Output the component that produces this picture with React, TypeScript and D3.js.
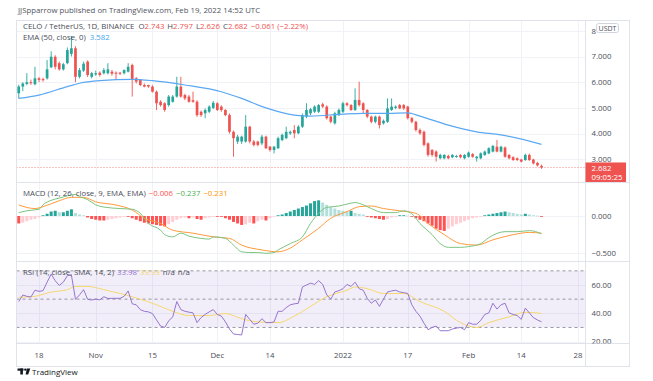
import React from "react";
import * as d3 from "d3";

// ---------- DATA ----------
const START_DAY = "2021-10-13";
// [open, high, low, close] per daily candle from START_DAY
const OHLC: [number, number, number, number][] = [
  [5.57, 5.9, 5.37, 5.83], [5.83, 6.0, 5.65, 5.95], [5.93, 6.35, 5.88, 6.0], [6.0, 6.1, 5.9, 5.96],
  [5.92, 6.6, 5.88, 6.15], [6.15, 6.2, 6.0, 6.09], [6.12, 6.18, 6.02, 6.08], [6.15, 6.86, 6.1, 6.5],
  [6.58, 7.2, 6.55, 6.99], [6.99, 7.05, 6.5, 6.6], [6.74, 6.8, 6.45, 6.5], [6.5, 6.75, 6.45, 6.7],
  [6.74, 7.35, 6.7, 7.25], [7.1, 7.8, 7.0, 7.32], [7.32, 7.4, 6.0, 6.21], [6.21, 6.55, 6.15, 6.47],
  [6.45, 6.8, 6.4, 6.72], [6.8, 6.85, 6.2, 6.28], [6.21, 6.4, 6.15, 6.35], [6.3, 6.45, 6.25, 6.35],
  [6.37, 6.42, 6.22, 6.28], [6.35, 6.55, 6.3, 6.47], [6.35, 6.74, 6.3, 6.5], [6.41, 6.48, 6.25, 6.33],
  [6.37, 6.42, 6.09, 6.33], [6.37, 6.4, 6.28, 6.33], [6.35, 6.5, 6.3, 6.47], [6.41, 6.74, 6.38, 6.6],
  [6.67, 6.72, 5.44, 6.09], [6.15, 6.2, 5.95, 6.02], [6.09, 6.12, 5.85, 5.89], [5.89, 5.95, 5.8, 5.83],
  [5.89, 5.9, 5.78, 5.83], [5.83, 5.88, 5.6, 5.63], [5.63, 5.68, 4.92, 5.18], [5.24, 5.3, 5.05, 5.11],
  [5.18, 5.22, 4.85, 4.92], [5.11, 5.5, 5.05, 5.44], [5.24, 5.5, 5.2, 5.44], [5.44, 6.21, 5.4, 5.83],
  [5.83, 6.21, 5.4, 5.44], [5.5, 5.55, 5.3, 5.37], [5.44, 5.5, 5.2, 5.24], [5.3, 5.63, 5.2, 5.24],
  [5.24, 5.3, 4.65, 4.72], [4.85, 4.9, 4.65, 4.72], [4.79, 4.98, 4.6, 4.92], [4.85, 5.1, 4.8, 5.05],
  [5.0, 5.27, 4.95, 5.2], [5.18, 5.22, 4.88, 4.92], [5.05, 5.1, 4.85, 4.92], [4.92, 4.95, 4.68, 4.72],
  [4.72, 4.78, 4.0, 4.07], [4.07, 4.12, 3.1, 3.82], [3.69, 3.95, 3.6, 3.88], [3.69, 3.92, 3.6, 3.88],
  [3.69, 4.72, 3.65, 4.27], [4.27, 4.3, 3.62, 3.69], [3.69, 3.75, 3.5, 3.56], [3.69, 3.72, 3.5, 3.56],
  [3.62, 3.95, 3.55, 3.88], [3.88, 3.92, 3.4, 3.43], [3.49, 3.52, 3.3, 3.36], [3.36, 3.52, 3.23, 3.49],
  [3.43, 3.88, 3.4, 3.82], [3.75, 4.0, 3.7, 3.95], [3.82, 4.27, 3.78, 4.07], [4.01, 4.12, 3.95, 4.07],
  [4.14, 4.33, 3.82, 4.01], [4.01, 4.33, 3.98, 4.27], [4.27, 4.78, 4.22, 4.72], [4.66, 5.18, 4.6, 4.92],
  [4.79, 5.0, 4.72, 4.95], [4.85, 5.1, 4.8, 5.05], [4.85, 5.15, 4.8, 5.11], [5.14, 5.2, 5.0, 5.05],
  [5.05, 5.1, 4.55, 4.6], [4.66, 4.7, 4.4, 4.46], [4.4, 4.85, 4.35, 4.79], [4.72, 4.98, 4.68, 4.92],
  [4.85, 5.24, 4.8, 5.18], [5.18, 5.22, 5.05, 5.11], [5.11, 5.15, 4.88, 4.92], [4.92, 5.76, 4.88, 5.31],
  [5.31, 6.02, 5.05, 5.11], [5.18, 5.22, 4.79, 4.92], [4.92, 4.95, 4.6, 4.66], [4.66, 4.7, 4.4, 4.46],
  [4.46, 4.7, 4.4, 4.66], [4.66, 4.7, 4.2, 4.33], [4.4, 4.55, 4.35, 4.5], [4.46, 5.37, 4.42, 4.98],
  [4.92, 5.37, 4.88, 5.05], [5.0, 5.1, 4.95, 5.05], [5.11, 5.15, 4.95, 4.98], [5.11, 5.15, 4.92, 4.98],
  [5.05, 5.08, 4.55, 4.6], [4.6, 4.65, 4.4, 4.46], [4.46, 4.5, 4.08, 4.14], [4.14, 4.2, 3.95, 4.01],
  [4.07, 4.12, 3.5, 3.56], [3.62, 3.66, 3.1, 3.17], [3.36, 3.4, 3.1, 3.17], [3.3, 3.35, 2.91, 3.1],
  [3.04, 3.22, 3.0, 3.17], [3.04, 3.2, 3.0, 3.17], [3.13, 3.18, 3.0, 3.04], [3.08, 3.2, 3.04, 3.17],
  [3.1, 3.17, 3.06, 3.13], [3.17, 3.2, 3.04, 3.08], [3.04, 3.2, 3.0, 3.17], [3.1, 3.3, 3.06, 3.26],
  [3.2, 3.24, 3.06, 3.1], [3.04, 3.13, 2.91, 3.1], [3.04, 3.27, 3.0, 3.23], [3.17, 3.34, 3.13, 3.3],
  [3.23, 3.47, 3.2, 3.43], [3.3, 3.56, 3.27, 3.52], [3.49, 3.75, 3.27, 3.3], [3.3, 3.53, 3.27, 3.49],
  [3.46, 3.5, 3.06, 3.1], [3.17, 3.2, 3.0, 3.04], [3.08, 3.12, 2.94, 2.97], [3.04, 3.07, 2.94, 2.97],
  [2.99, 3.02, 2.88, 2.91], [2.97, 3.22, 2.94, 3.17], [3.17, 3.22, 2.94, 2.97], [2.99, 3.02, 2.8, 2.84],
  [2.86, 2.9, 2.72, 2.76], [2.743, 2.797, 2.626, 2.682],
];

// [day index, value]
const EMA50: [number, number][] = [
  [0, 5.37], [5, 5.5], [12, 5.83], [15, 5.96], [20, 6.06], [28, 6.11], [33, 6.06], [41, 5.89],
  [50, 5.63], [55, 5.37], [61, 5.0], [68, 4.72], [72, 4.68], [80, 4.76], [85, 4.79], [91, 4.79],
  [96, 4.81], [99, 4.68], [106, 4.33], [113, 4.07], [119, 3.95], [129, 3.58],
];

const MACD_LINE: [number, number][] = [
  [0, 0.045], [2, 0.07], [5, 0.09], [6, 0.15], [8, 0.21], [10, 0.24], [12, 0.27], [14, 0.29],
  [15, 0.26], [17, 0.22], [19, 0.15], [21, 0.12], [25, 0.1], [28, 0.09], [30, 0.036], [32, -0.1],
  [35, -0.19], [36, -0.25], [38, -0.28], [40, -0.23], [42, -0.27], [45, -0.3], [47, -0.31], [48, -0.28],
  [51, -0.3], [53, -0.39], [55, -0.48], [57, -0.49], [59, -0.49], [61, -0.5], [63, -0.49], [64, -0.455],
  [67, -0.37], [70, -0.28], [72, -0.1], [74, 0.036], [76, 0.116], [79, 0.134], [81, 0.16], [83, 0.18],
  [85, 0.15], [87, 0.1], [90, 0.045], [93, 0.045], [95, 0.07], [97, 0.03], [99, -0.1], [102, -0.25],
  [104, -0.37], [106, -0.42], [109, -0.42], [111, -0.41], [114, -0.37], [116, -0.29], [120, -0.21],
  [123, -0.21], [126, -0.196], [129, -0.237],
];

const SIGNAL_LINE: [number, number][] = [
  [0, 0.147], [4, 0.1], [6, 0.125], [10, 0.205], [13, 0.25], [16, 0.25], [19, 0.19], [24, 0.147],
  [28, 0.08], [31, -0.03], [35, -0.1], [38, -0.19], [43, -0.23], [48, -0.28], [52, -0.3], [55, -0.39],
  [60, -0.455], [64, -0.48], [67, -0.43], [70, -0.32], [74, -0.165], [77, -0.03], [81, 0.058],
  [84, 0.125], [87, 0.134], [90, 0.1], [94, 0.07], [98, 0.036], [101, -0.1], [105, -0.25],
  [109, -0.37], [113, -0.39], [117, -0.32], [122, -0.25], [126, -0.22], [129, -0.231],
];

const MACD_HIST: number[] = [
  -0.1, -0.09, -0.07, -0.05, -0.04, -0.02,
  0.01, 0.03, 0.06, 0.07, 0.05, 0.05, 0.07, 0.09, 0.04, 0.02, 0.01,
  -0.02, -0.04, -0.05, -0.06, -0.06,
  -0.05, -0.04, -0.03, -0.02, -0.01, -0.01,
  -0.03, -0.05, -0.07, -0.09, -0.1, -0.11, -0.12, -0.13, -0.14,
  -0.11, -0.08, -0.05, -0.03, -0.02,
  -0.03, -0.02, -0.04, -0.05, -0.03, -0.02, -0.01, -0.01, -0.01,
  -0.03, -0.05, -0.08, -0.1, -0.12, -0.11,
  -0.09, -0.1, -0.07, -0.05, -0.06, -0.03, -0.01,
  0.01, 0.02, 0.04, 0.06, 0.08, 0.1, 0.12, 0.14, 0.17, 0.2, 0.21,
  0.18, 0.15, 0.12, 0.1, 0.08, 0.07, 0.06, 0.07, 0.04, 0.03, 0.02,
  -0.01, -0.02, -0.03, -0.04, -0.05, -0.04, -0.02, -0.01,
  0.01, 0.01, 0.005, -0.01,
  -0.03, -0.05, -0.07, -0.1, -0.13, -0.17, -0.19, -0.2,
  -0.17, -0.14, -0.11, -0.09, -0.07, -0.05, -0.03, -0.02, -0.01,
  0.01, 0.02, 0.03, 0.04, 0.05, 0.06, 0.05, 0.04, 0.03, 0.02, 0.03, 0.02, 0.01, 0.005, -0.006,
];

const RSI: number[] = [
  48.3, 52.9, 52, 51.5, 56.3, 55.5, 56, 62, 67.7, 63, 59.7, 62, 66.6, 67, 49.9, 53, 56.7, 49.9, 49.4, 50,
  49.5, 51.7, 50.5, 50.6, 50.6, 50.6, 52, 55.8, 46.7, 46, 42.6, 41.4, 41, 39.8, 35.3, 31, 30, 34.6, 37.5, 48.3,
  42.6, 41.4, 40.8, 40.3, 33.4, 37, 39.2, 41, 42.6, 39.2, 38, 34, 28.9, 25.4, 25, 24.7, 39.2, 35.7, 32.3, 33,
  36.2, 33.4, 33.4, 33.9, 41.4, 41.4, 44, 46, 46.7, 47.1, 58.6, 60, 61.3, 60.4, 63.1, 60.4, 53, 50, 55.1, 56,
  57.4, 60.4, 59, 62, 57.4, 56.3, 50.6, 47.1, 49.4, 44.9, 50, 55.1, 55.8, 56.3, 55.1, 54.6, 54, 46, 41.4, 38,
  33, 28.4, 30, 31, 27.7, 27.7, 27.7, 28.9, 29.5, 30, 28.4, 33.4, 32.3, 32.3, 35, 39.2, 40.3, 47.1, 43, 46,
  47.1, 40.3, 39.2, 38.4, 35.7, 43.7, 40.3, 36.9, 35.3, 33.98,
];

const RSI_SMA: [number, number][] = [
  [0, 51.3], [4, 52], [8, 55], [12, 56.7], [14, 59], [17, 59], [21, 56.7], [25, 54], [30, 50],
  [34, 46], [38, 41.4], [42, 38.4], [47, 38.4], [51, 39.8], [55, 36.2], [59, 33.9], [64, 33.4],
  [68, 38], [72, 44.9], [76, 51.7], [81, 56.3], [83, 58.6], [86, 57.4], [90, 54], [95, 54],
  [99, 48.3], [105, 41.4], [109, 33.4], [113, 30], [116, 33.4], [121, 37.5], [125, 40.7], [129, 39.93],
];

const PRICE_TICKS = [3, 4, 5, 6, 7, 8];
const MACD_TICKS = [0, -0.5];
const RSI_TICKS = [20, 40, 60];
const RSI_LEVELS = [70, 50, 30];
const TIME_TICKS: [string, string][] = [
  ["2021-10-18", "18"], ["2021-11-01", "Nov"], ["2021-11-15", "15"], ["2021-12-01", "Dec"],
  ["2021-12-14", "14"], ["2022-01-01", "2022"], ["2022-01-17", "17"], ["2022-02-01", "Feb"],
  ["2022-02-14", "14"], ["2022-02-28", "28"],
];
const LAST_PRICE = 2.682;
const COUNTDOWN = "09:05:25";

// ---------- LAYOUT ----------
const W = 653, H = 381;
const L = 16.5, AX = 585.5, R = 629.5;
const TOP = 20.5, P_BOT = 182.5, M_BOT = 261.5, R_BOT = 343.5, BOT = 366.5;
const FONT = "'Open Sans', 'Noto Sans', sans-serif";
const UP = "#26a69a", DOWN = "#ef5350";
const TXT = "#4a4d57";

const parse = d3.utcParse("%Y-%m-%d");
const start = parse(START_DAY) as Date;
const dayDate = (i: number) => d3.utcDay.offset(start, i);

export default function App() {
  const x = d3.scaleUtc()
    .domain([parse("2021-10-18") as Date, parse("2022-02-28") as Date])
    .range([39, 578]);
  const xi = (i: number) => x(dayDate(i));
  const yP = d3.scaleLinear().domain([3, 7]).range([159.3, 56.5]);
  const yM = d3.scaleLinear().domain([0, -0.5]).range([216, 253.3]);
  const yR = d3.scaleLinear().domain([70, 30]).range([270.85, 327.45]);

  const emaPath = d3.line<[number, number]>().x(d => xi(d[0])).y(d => yP(d[1])).curve(d3.curveMonotoneX)(EMA50) || "";
  const macdPath = d3.line<[number, number]>().x(d => xi(d[0])).y(d => yM(d[1])).curve(d3.curveMonotoneX)(MACD_LINE) || "";
  const sigPath = d3.line<[number, number]>().x(d => xi(d[0])).y(d => yM(d[1])).curve(d3.curveMonotoneX)(SIGNAL_LINE) || "";
  const rsiPath = d3.line<number>().x((_, i) => xi(i)).y(d => yR(d))(RSI) || "";
  const smaPath = d3.line<[number, number]>().x(d => xi(d[0])).y(d => yR(d[1])).curve(d3.curveMonotoneX)(RSI_SMA) || "";

  const histColor = (v: number, p: number) =>
    v >= 0 ? (v >= p ? "#26a69a" : "#b2dfdb") : (v <= p ? "#ff5252" : "#ffcdd2");

  const bodyW = 2.7;
  const grid = "#f0f2f6";
  const border = "#e0e3eb";
  const tagTop = yP(LAST_PRICE) - 5;

  return (
    <svg width={W} height={H} style={{ position: "absolute", left: 0, top: 0, background: "#fff" }}
      fontFamily={FONT}>
      <defs>
        <clipPath id="cp"><rect x={L} y={TOP} width={AX - L} height={P_BOT - TOP} /></clipPath>
        <clipPath id="cm"><rect x={L} y={P_BOT} width={AX - L} height={M_BOT - P_BOT} /></clipPath>
        <clipPath id="cr"><rect x={L} y={M_BOT} width={AX - L} height={R_BOT - M_BOT} /></clipPath>
        <clipPath id="cra"><rect x={AX} y={M_BOT} width={R - AX} height={R_BOT - M_BOT} /></clipPath>
        <clipPath id="cpa3"><rect x={AX} y={TOP + 30} width={R - AX} height={tagTop - TOP - 30} /></clipPath>
      </defs>
      <rect width={W} height={H} fill="#fff" />

      {/* header */}
      <text x={18} y={13} fontSize={7.8} fill="#50535e">
        JJSpparrow published on TradingView.com, Feb 19, 2022 14:52 UTC
      </text>

      {/* vertical grid */}
      {TIME_TICKS.map(([d]) => {
        const gx = Math.round(x(parse(d) as Date)) + 0.5;
        return <line key={d} x1={gx} x2={gx} y1={TOP} y2={R_BOT} stroke={grid} />;
      })}
      {/* horizontal grid */}
      {PRICE_TICKS.map(t => <line key={"p" + t} x1={L} x2={AX} y1={Math.round(yP(t)) + 0.5} y2={Math.round(yP(t)) + 0.5} stroke={grid} />)}
      {MACD_TICKS.map(t => <line key={"m" + t} x1={L} x2={AX} y1={Math.round(yM(t)) + 0.5} y2={Math.round(yM(t)) + 0.5} stroke={grid} />)}
      {RSI_TICKS.map(t => <line key={"r" + t} x1={L} x2={AX} y1={Math.round(yR(t)) + 0.5} y2={Math.round(yR(t)) + 0.5} stroke={grid} />)}

      {/* price pane */}
      <g clipPath="url(#cp)">
        <line x1={L} x2={AX} y1={yP(LAST_PRICE)} y2={yP(LAST_PRICE)} stroke={DOWN} strokeOpacity={0.7} strokeDasharray="1,2" />
        {OHLC.map(([o, h, l, c], i) => {
          const cx = xi(i);
          const col = c >= o ? UP : DOWN;
          const top = yP(Math.max(o, c));
          const bh = Math.max(1, yP(Math.min(o, c)) - top);
          return (
            <g key={i}>
              <line x1={cx} x2={cx} y1={yP(h)} y2={yP(l)} stroke={col} strokeWidth={0.9} />
              <rect x={cx - bodyW / 2} y={top} width={bodyW} height={bh} fill={col} />
            </g>
          );
        })}
        <path d={emaPath} fill="none" stroke="#5ba8f2" strokeWidth={1.2} />
      </g>

      {/* MACD pane */}
      <g clipPath="url(#cm)">
        {MACD_HIST.map((v, i) => {
          const p = i > 0 ? MACD_HIST[i - 1] : v;
          const y0 = yM(0), y1 = yM(v);
          return <rect key={i} x={xi(i) - 1.5} y={Math.min(y0, y1)} width={3} height={Math.max(0.8, Math.abs(y1 - y0))} fill={histColor(v, p)} />;
        })}
        <path d={sigPath} fill="none" stroke="#ff9a3c" strokeWidth={1} />
        <path d={macdPath} fill="none" stroke="#7cc47f" strokeWidth={1} />
      </g>

      {/* RSI pane */}
      <g clipPath="url(#cr)">
        <rect x={L} y={yR(70)} width={AX - L} height={yR(30) - yR(70)} fill="#7e57c2" fillOpacity={0.1} />
        {RSI_LEVELS.map(t => <line key={t} x1={L} x2={AX} y1={yR(t)} y2={yR(t)} stroke="#9598a1" strokeDasharray="3,3" />)}
        <path d={smaPath} fill="none" stroke="#f5d76e" strokeWidth={1} />
        <path d={rsiPath} fill="none" stroke="#9575cd" strokeWidth={1} />
      </g>

      {/* frame and separators */}
      <rect x={L} y={TOP} width={R - L} height={BOT - TOP} fill="none" stroke={border} />
      <line x1={L} x2={R} y1={P_BOT} y2={P_BOT} stroke={border} />
      <line x1={L} x2={R} y1={M_BOT} y2={M_BOT} stroke={border} />
      <line x1={L} x2={R} y1={R_BOT} y2={R_BOT} stroke={border} />
      <line x1={AX} x2={AX} y1={TOP} y2={BOT} stroke={border} />

      {/* legends */}
      <text x={23} y={29} fontSize={7.8} fill={TXT}>
        CELO / TetherUS, 1D, BINANCE
        <tspan dx={4}>O</tspan><tspan fill={DOWN}>2.743</tspan>
        <tspan dx={3}>H</tspan><tspan fill={DOWN}>2.797</tspan>
        <tspan dx={3}>L</tspan><tspan fill={DOWN}>2.626</tspan>
        <tspan dx={3}>C</tspan><tspan fill={DOWN}>2.682</tspan>
        <tspan dx={3} fill={DOWN}>−0.061 (−2.22%)</tspan>
      </text>
      <text x={23} y={40} fontSize={7.8} fill={TXT}>
        EMA (50, close, 0)<tspan dx={4} fill="#42a5f5">3.582</tspan>
      </text>
      <text x={23} y={196} fontSize={7.8} fill={TXT}>
        MACD (12, 26, close, 9, EMA, EMA)
        <tspan dx={3} fill="#ff5252">−0.006</tspan>
        <tspan dx={3} fill="#4caf50">−0.237</tspan>
        <tspan dx={3} fill="#ff9800">−0.231</tspan>
      </text>
      <text x={23} y={275} fontSize={7.8} fill={TXT}>
        RSI (14, close, SMA, 14, 2)
        <tspan dx={3} fill="#9575cd">33.98</tspan>
        <tspan dx={3} fill="#f5d76e">39.93</tspan>
        <tspan dx={3}>n/a</tspan>
        <tspan dx={3}>n/a</tspan>
      </text>

      {/* right axis labels (top label mostly hidden behind the currency tag, as in the reference) */}
      {PRICE_TICKS.filter(t => t === 8).map(t => (
        <text key={"pl" + t} x={591.5} y={yP(t) + 2.8} fontSize={7.8} fill={TXT}>{d3.format("d")(t)}</text>
      ))}
      <g clipPath="url(#cpa3)">
        {PRICE_TICKS.filter(t => t < 8).map(t => (
          <text key={"pl" + t} x={591.5} y={yP(t) + 2.8} fontSize={7.8} fill={TXT}>{d3.format(".3f")(t)}</text>
        ))}
      </g>
      {MACD_TICKS.map(t => (
        <text key={"ml" + t} x={591.5} y={yM(t) + 2.8} fontSize={7.8} fill={TXT}>{d3.format(".3f")(t)}</text>
      ))}
      <g clipPath="url(#cra)">
        {RSI_TICKS.map(t => (
          <text key={"rl" + t} x={591.5} y={yR(t) + 2.8} fontSize={7.8} fill={TXT}>{d3.format(".2f")(t)}</text>
        ))}
      </g>
      {/* USDT tag */}
      <rect x={596.5} y={23.5} width={22} height={9} rx={2} fill="#fff" stroke="#d1d4dc" />
      <text x={607.5} y={30.5} fontSize={7} fill={TXT} textAnchor="middle">USDT</text>
      {/* last price tag */}
      <rect x={AX} y={tagTop} width={40.5} height={19.5} fill={DOWN} />
      <text x={591.5} y={yP(LAST_PRICE) + 3.3} fontSize={7.8} fill="#fff">{d3.format(".3f")(LAST_PRICE)}</text>
      <text x={591.5} y={yP(LAST_PRICE) + 12.3} fontSize={7.8} fill="#fff">{COUNTDOWN}</text>

      {/* time axis */}
      {TIME_TICKS.map(([d, lab]) => (
        <text key={"t" + d} x={x(parse(d) as Date)} y={358} fontSize={7.8} fill={TXT} textAnchor="middle">{lab}</text>
      ))}

      {/* TradingView logo */}
      <g fill="#131722">
        <rect x={17.5} y={368.5} width={6} height={2.2} />
        <rect x={20.3} y={368.5} width={2.6} height={6} />
        <circle cx={25.3} cy={369.6} r={1.2} />
        <polygon points="26.8,368.5 30.3,368.5 28.2,374.5 25.6,374.5" />
      </g>
      <text x={32} y={374.5} fontSize={8} fill="#131722">TradingView</text>
    </svg>
  );
}
